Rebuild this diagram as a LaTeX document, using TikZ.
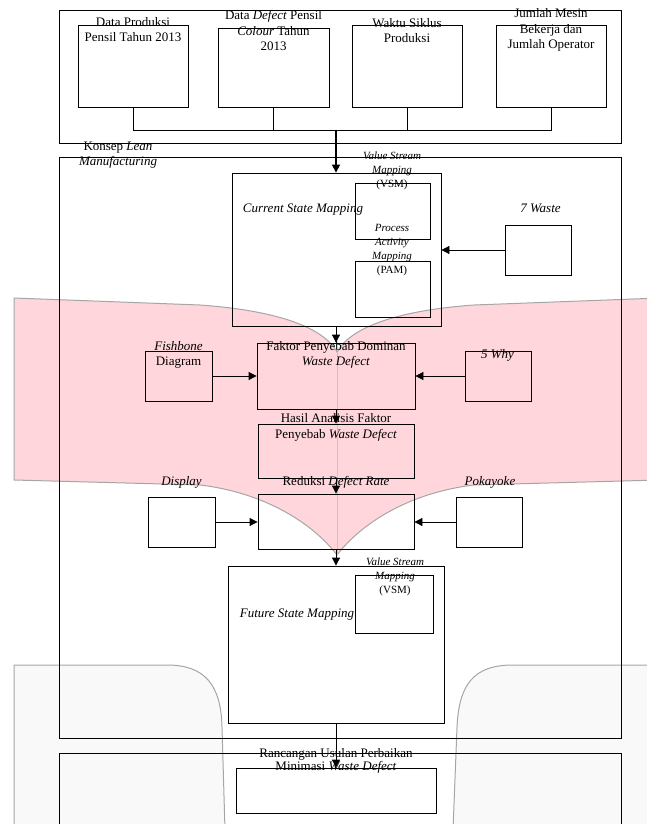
\documentclass[tikz,border=0pt]{standalone}
\usepackage{fontspec}
\setmainfont{Liberation Serif}
\usepackage{tikz}
\usetikzlibrary{arrows.meta, positioning}
\definecolor{bandpink}{RGB}{255,214,219}
\definecolor{shadegray}{RGB}{249,249,249}
\tikzstyle{block} = [draw=black, line width=0.8pt, inner sep=0]
\tikzstyle{frame} = [draw=black, line width=0.9pt, inner sep=0]
\tikzstyle{txt} = [align=center, inner sep=0, font=\fontsize{13}{15.3}\selectfont]
\tikzstyle{smalltxt} = [align=center, inner sep=0, font=\fontsize{11}{13.8}\selectfont]
\tikzstyle{arrow} = [-{Triangle[length=8pt, width=8pt]}, line width=0.8pt]
\tikzstyle{edge} = [draw=gray!70, line width=1pt]

\begin{document}
\begin{tikzpicture}[x=1pt, y=-1pt]
	\useasboundingbox (0,0) rectangle (647,824);

	% background shapes
	\fill [bandpink] (14,298) -- (200,305) .. controls (270,310) and (322,325) .. (337,352)
		.. controls (352,325) and (404,310) .. (474,305) -- (660,298) -- (660,480) -- (474,485)
		.. controls (414,492) and (364,520) .. (337,555) .. controls (310,520) and (260,492) .. (200,485)
		-- (14,480) -- cycle;
	\draw [edge] (660,298) -- (474,305) .. controls (404,310) and (352,325) .. (337,352)
		.. controls (322,325) and (270,310) .. (200,305) -- (14,298) -- (14,480) -- (200,485)
		.. controls (260,492) and (310,520) .. (337,555) .. controls (364,520) and (414,492) .. (474,485) -- (660,480);
	\draw [gray!45, line width=1pt] (337,352) -- (337,555);

	\fill [shadegray] (14,830) -- (14,665) -- (167,665) .. controls (205,665) and (221,685) .. (222,727) -- (225,830) -- cycle;
	\draw [edge] (14,830) -- (14,665) -- (167,665) .. controls (205,665) and (221,685) .. (222,727) -- (225,830);
	\fill [shadegray] (660,830) -- (660,665) -- (513,665) .. controls (473,665) and (459,685) .. (457,727) -- (453,830) -- cycle;
	\draw [edge] (660,665) -- (513,665) .. controls (473,665) and (459,685) .. (457,727) -- (453,830);

	% input data
	\node (Top) [frame, minimum width=562, minimum height=133] at (340,76.5) {};
	\node (Prod) [block, minimum width=110, minimum height=82] at (133,66) {};
	\node (Defect) [block, minimum width=111, minimum height=79] at (273.5,67.5) {};
	\node (Siklus) [block, minimum width=110, minimum height=82] at (407,66) {};
	\node (Mesin) [block, minimum width=110, minimum height=82] at (551,66) {};
	\node (ProdTxt) [txt] at (133,29.5) {Data Produksi\\Pensil Tahun 2013};
	\node (DefectTxt) [txt] at (273.5,30.5) {Data \textit{Defect} Pensil\\\textit{Colour} Tahun\\2013};
	\node (SiklusTxt) [txt] at (407,30.5) {Waktu Siklus\\Produksi};
	\node (MesinTxt) [txt] at (551,30) {Jumlah Mesin\\Bekerja dan\\Jumlah Operator};

	\coordinate (Bus) at (336,130);
	\draw [line width=0.8pt] (Prod.south) |- (Bus);
	\draw [line width=0.8pt] (Mesin.south) |- (Bus);
	\draw [line width=0.8pt] (Defect.south) -- (Defect.south |- Bus);
	\draw [line width=0.8pt] (Siklus.south) -- (Siklus.south |- Bus);

	% lean manufacturing
	\node (Lean) [frame, minimum width=562, minimum height=581.5] at (340,447.75) {};
	\node (LeanTxt) [txt] at (118,155) {Konsep \textit{Lean}\\\textit{Manufacturing}};

	\node (CSM) [block, minimum width=209, minimum height=153] at (336.5,249.5) {};
	\node (VSM) [block, minimum width=75, minimum height=56] at (392.5,211) {};
	\node (PAM) [block, minimum width=75, minimum height=56] at (392.5,289) {};
	\node (CSMTxt) [txt] at (303,210) {\textit{Current State Mapping}};
	\node (VSMTxt) [smalltxt] at (392,171) {\textit{Value Stream}\\\textit{Mapping}\\(VSM)};
	\node (PAMTxt) [smalltxt] at (392,250) {\textit{Process}\\\textit{Activity}\\\textit{Mapping}\\(PAM)};
	\draw [arrow, line width=1.1pt] (Bus) -- (Bus |- CSM.north);

	\node (Waste) [block, minimum width=66, minimum height=50] at (538,250) {};
	\node (WasteTxt) [txt] at (540.5,208.5) {\textit{7 Waste}};
	\draw [arrow] (Waste.west) -- (Waste.west -| CSM.east);

	% dominant factor
	\node (Faktor) [block, minimum width=158, minimum height=66] at (336,376) {};
	\node (FaktorTxt) [txt] at (336,355) {Faktor Penyebab Dominan\\\textit{Waste Defect}};
	\draw [arrow] (Faktor.north |- CSM.south) -- (Faktor.north);

	\node (Fish) [block, minimum width=67, minimum height=50] at (178.5,376) {};
	\node (FishTxt) [txt] at (178.5,355) {\textit{Fishbone}\\Diagram};
	\draw [arrow] (Fish.east) -- (Fish.east -| Faktor.west);

	\node (Why) [block, minimum width=66, minimum height=50] at (498,376) {};
	\node (WhyTxt) [txt] at (497.5,355) {\textit{5 Why}};
	\draw [arrow] (Why.west) -- (Why.west -| Faktor.east);

	\node (Hasil) [block, minimum width=156, minimum height=54] at (336,451) {};
	\node (HasilTxt) [txt] at (336,427.5) {Hasil Analisis Faktor\\Penyebab \textit{Waste Defect}};
	\draw [arrow] (Faktor.south) -- (Hasil.north);

	% reduction
	\node (Reduksi) [block, minimum width=156, minimum height=55] at (336,521.5) {};
	\node (ReduksiTxt) [txt] at (336,482.5) {Reduksi \textit{Defect Rate}};
	\draw [arrow] (Hasil.south) -- (Reduksi.north);

	\node (Display) [block, minimum width=66.5, minimum height=50] at (181.75,522) {};
	\node (DisplayTxt) [txt] at (181.5,482.5) {\textit{Display}};
	\draw [arrow] (Display.east) -- (Display.east -| Reduksi.west);

	\node (Poka) [block, minimum width=66, minimum height=50] at (489,522) {};
	\node (PokaTxt) [txt] at (490,482.5) {\textit{Pokayoke}};
	\draw [arrow] (Poka.west) -- (Poka.west -| Reduksi.east);

	% future state
	\node (Future) [block, minimum width=216, minimum height=157] at (336,644.5) {};
	\node (VSMF) [block, minimum width=78, minimum height=58] at (394,604) {};
	\node (FutureTxt) [txt] at (297,615) {\textit{Future State Mapping}};
	\node (VSMFTxt) [smalltxt] at (395,577) {\textit{Value Stream}\\\textit{Mapping}\\(VSM)};
	\draw [arrow] (Reduksi.south) -- (Future.north);

	% proposal
	\node (Usulan) [frame, minimum width=562, minimum height=86.5] at (340,796.75) {};
	\node (Ranc) [block, minimum width=200, minimum height=45] at (336,790.5) {};
	\node (RancTxt) [txt, font=\fontsize{13}{13.3}\selectfont] at (336,761) {Rancangan Usulan Perbaikan\\Minimasi \textit{Waste Defect}};
	\draw [arrow] (Future.south) -- (Ranc.north);
\end{tikzpicture}
\end{document}
